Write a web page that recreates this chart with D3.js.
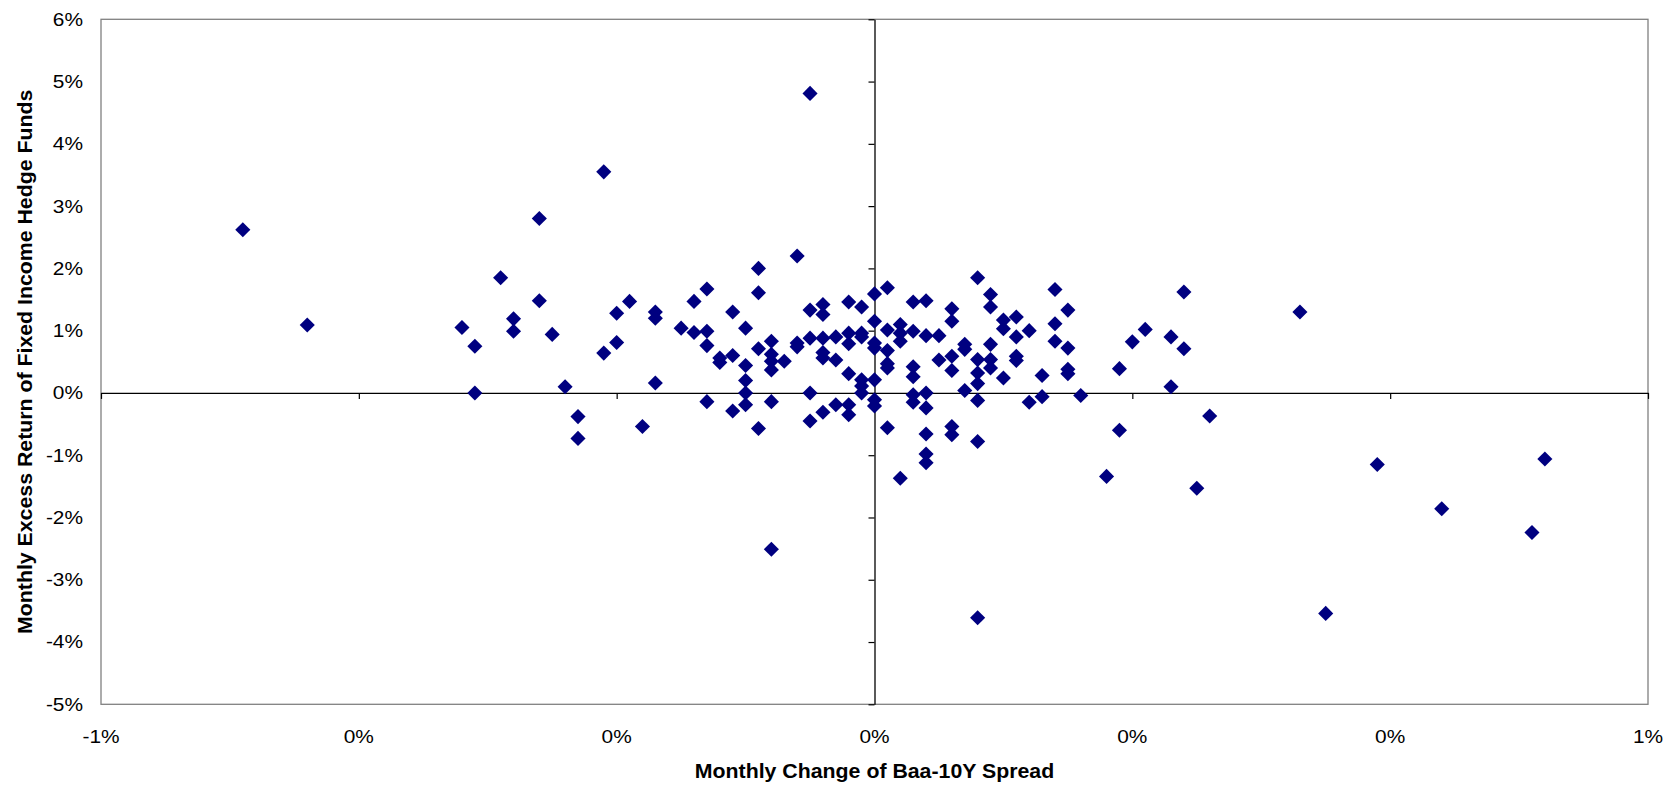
<!DOCTYPE html>
<html>
<head>
<meta charset="utf-8">
<script src="https://cdn.jsdelivr.net/npm/d3@7"></script>
<style>
  html, body { margin: 0; padding: 0; background: #fff; }
  svg { display: block; }
  text { font-family: "Liberation Sans", Arial, sans-serif; fill: #000; }
</style>
</head>
<body>
<svg id="chart" width="1679" height="790"></svg>
<script>
// Monthly change of Baa-10Y spread (%)
const spreadChange = [
  -0.49, -0.44, -0.32, -0.31, -0.31, -0.29, -0.28, -0.28, -0.26, -0.26,
  -0.25, -0.24, -0.23, -0.23, -0.21, -0.21, -0.20, -0.20, -0.19, -0.18,
  -0.17, -0.17, -0.17, -0.15, -0.14, -0.14, -0.13, -0.13, -0.13, -0.13,
  -0.12, -0.12, -0.11, -0.11, -0.11, -0.10, -0.10, -0.10, -0.10, -0.10,
  -0.09, -0.09, -0.09, -0.09, -0.08, -0.08, -0.08, -0.08, -0.08, -0.08,
  -0.07, -0.06, -0.06, -0.06, -0.05, -0.05, -0.05, -0.05, -0.05, -0.04,
  -0.04, -0.04, -0.04, -0.04, -0.04, -0.03, -0.03, -0.03, -0.02, -0.02,
  -0.02, -0.02, -0.02, -0.02, -0.01, -0.01, -0.01, -0.01, -0.01, -0.01,
  0.00, 0.00, 0.00, 0.00, 0.00, 0.00, 0.00, 0.01, 0.01, 0.01,
  0.01, 0.01, 0.01, 0.02, 0.02, 0.02, 0.02, 0.03, 0.03, 0.03,
  0.03, 0.03, 0.03, 0.04, 0.04, 0.04, 0.04, 0.04, 0.04, 0.04,
  0.05, 0.05, 0.06, 0.06, 0.06, 0.06, 0.06, 0.06, 0.07, 0.07,
  0.07, 0.08, 0.08, 0.08, 0.08, 0.08, 0.08, 0.08, 0.09, 0.09,
  0.09, 0.09, 0.09, 0.10, 0.10, 0.10, 0.11, 0.11, 0.11, 0.11,
  0.12, 0.12, 0.13, 0.13, 0.14, 0.14, 0.14, 0.15, 0.15, 0.15,
  0.15, 0.16, 0.18, 0.19, 0.19, 0.20, 0.21, 0.23, 0.23, 0.24,
  0.24, 0.25, 0.26, 0.33, 0.35, 0.39, 0.44, 0.51, 0.52
];
// Monthly excess return of fixed income hedge funds (%)
const excessReturn = [
  2.62, 1.09, 1.05, 0.75, 0.00, 1.85, 1.19, 0.99, 2.80, 1.48,
  0.94, 0.10, -0.38, -0.73, 3.55, 0.64, 1.28, 0.81, 1.47, -0.54,
  1.30, 1.20, 0.16, 1.04, 1.47, 0.97, 1.67, 0.99, 0.76, -0.14,
  0.56, 0.49, 1.30, 0.60, -0.29, 1.04, 0.44, 0.20, 0.00, -0.19,
  2.00, 1.61, 0.71, -0.57, 0.83, 0.62, 0.51, 0.37, -0.14, -2.51,
  0.51, 2.20, 0.80, 0.74, 4.81, 1.33, 0.88, 0.00, -0.45, 1.42,
  1.26, 0.88, 0.65, 0.56, -0.31, 0.90, 0.53, -0.19, 1.46, 0.96,
  0.79, 0.31, -0.19, -0.35, 1.38, 0.96, 0.90, 0.21, 0.11, 0.00,
  1.59, 1.15, 0.80, 0.72, 0.21, -0.11, -0.21, 1.69, 1.01, 0.68,
  0.47, 0.40, -0.56, 1.10, 0.96, 0.83, -1.37, 1.46, 0.99, 0.42,
  0.26, -0.03, -0.15, 1.48, 0.92, 0.00, -0.24, -0.66, -0.98, -1.12,
  0.92, 0.53, 1.35, 1.15, 0.59, 0.36, -0.54, -0.67, 0.78, 0.70,
  0.04, 1.85, 0.535, 0.32, 0.15, -0.12, -0.78, -3.61, 1.58, 1.38,
  0.78, 0.535, 0.40, 1.17, 1.03, 0.24, 1.22, 0.90, 0.59, 0.52,
  1.00, -0.15, 0.28, -0.06, 1.66, 1.11, 0.83, 1.33, 0.72, 0.38,
  0.31, -0.04, -1.34, 0.39, -0.60, 0.82, 1.02, 0.90, 0.10, 1.62,
  0.71, -1.53, -0.37, 1.30, -3.54, -1.15, -1.86, -2.24, -1.06
];
const xTicks = [-0.6, -0.4, -0.2, 0, 0.2, 0.4, 0.6];
const yTicks = [-5, -4, -3, -2, -1, 0, 1, 2, 3, 4, 5, 6];
const xTitle = "Monthly Change of Baa-10Y Spread";
const yTitle = "Monthly Excess Return of Fixed Income Hedge Funds";

const points = spreadChange.map((x, i) => ({ x, y: excessReturn[i] }));

const svg = d3.select("#chart");
const L = 101, R = 1648, T = 19.3, B = 704.3;

const x = d3.scaleLinear().domain([-0.6, 0.6]).range([L, R]);
const y = d3.scaleLinear().domain([-5, 6]).range([B, T]);
const pct = v => `${Math.round(v)}%`;

// plot area border
svg.append("rect")
  .attr("x", L).attr("y", T)
  .attr("width", R - L).attr("height", B - T)
  .attr("fill", "none").attr("stroke", "#808080").attr("stroke-width", 1.3);

// horizontal axis at y = 0 with downward ticks
const xAxis = svg.append("g")
  .attr("transform", `translate(0,${y(0)})`)
  .call(d3.axisBottom(x).tickValues(xTicks).tickSize(6).tickSizeOuter(0).tickFormat(""));
xAxis.select(".domain").attr("stroke", "#000").attr("stroke-width", 1.3);
xAxis.selectAll(".tick line").attr("stroke", "#000").attr("stroke-width", 1.2);

// vertical axis at x = 0 with leftward ticks
const yAxis = svg.append("g")
  .attr("transform", `translate(${x(0)},0)`)
  .call(d3.axisLeft(y).tickValues(yTicks).tickSize(6).tickSizeOuter(0).tickFormat(""));
yAxis.select(".domain").attr("stroke", "#000").attr("stroke-width", 1.3);
yAxis.selectAll(".tick line").attr("stroke", "#000").attr("stroke-width", 1.2);

// tick labels at the plot edges (slightly wide glyphs as in the original)
const stretchTick = 1.16;
svg.append("g").selectAll("text")
  .data(yTicks).join("text")
  .attr("transform", d => `translate(83,${y(d)}) scale(${stretchTick},1)`)
  .attr("text-anchor", "end").attr("dominant-baseline", "central")
  .style("font-size", "18px")
  .text(pct);

svg.append("g").selectAll("text")
  .data(xTicks).join("text")
  .attr("transform", d => `translate(${x(d)},737) scale(${stretchTick},1)`)
  .attr("text-anchor", "middle").attr("dominant-baseline", "central")
  .style("font-size", "18px")
  .text(pct);

// axis titles
const stretchTitle = 1.065;
svg.append("text")
  .attr("transform", `translate(${(L + R) / 2},771) scale(${stretchTitle},1)`)
  .attr("text-anchor", "middle").attr("dominant-baseline", "central")
  .style("font-size", "20px").style("font-weight", "bold")
  .text(xTitle);

svg.append("text")
  .attr("transform", `translate(25,${(T + B) / 2}) rotate(-90) scale(${stretchTitle},1)`)
  .attr("text-anchor", "middle").attr("dominant-baseline", "central")
  .style("font-size", "20px").style("font-weight", "bold")
  .text(yTitle);

// diamond markers
const diamond = d3.symbol().type(d3.symbolSquare).size(114);
svg.append("g").selectAll("path")
  .data(points).join("path")
  .attr("d", diamond)
  .attr("transform", d => `translate(${x(d.x)},${y(d.y)}) rotate(45)`)
  .attr("fill", "#000080");
</script>
</body>
</html>
